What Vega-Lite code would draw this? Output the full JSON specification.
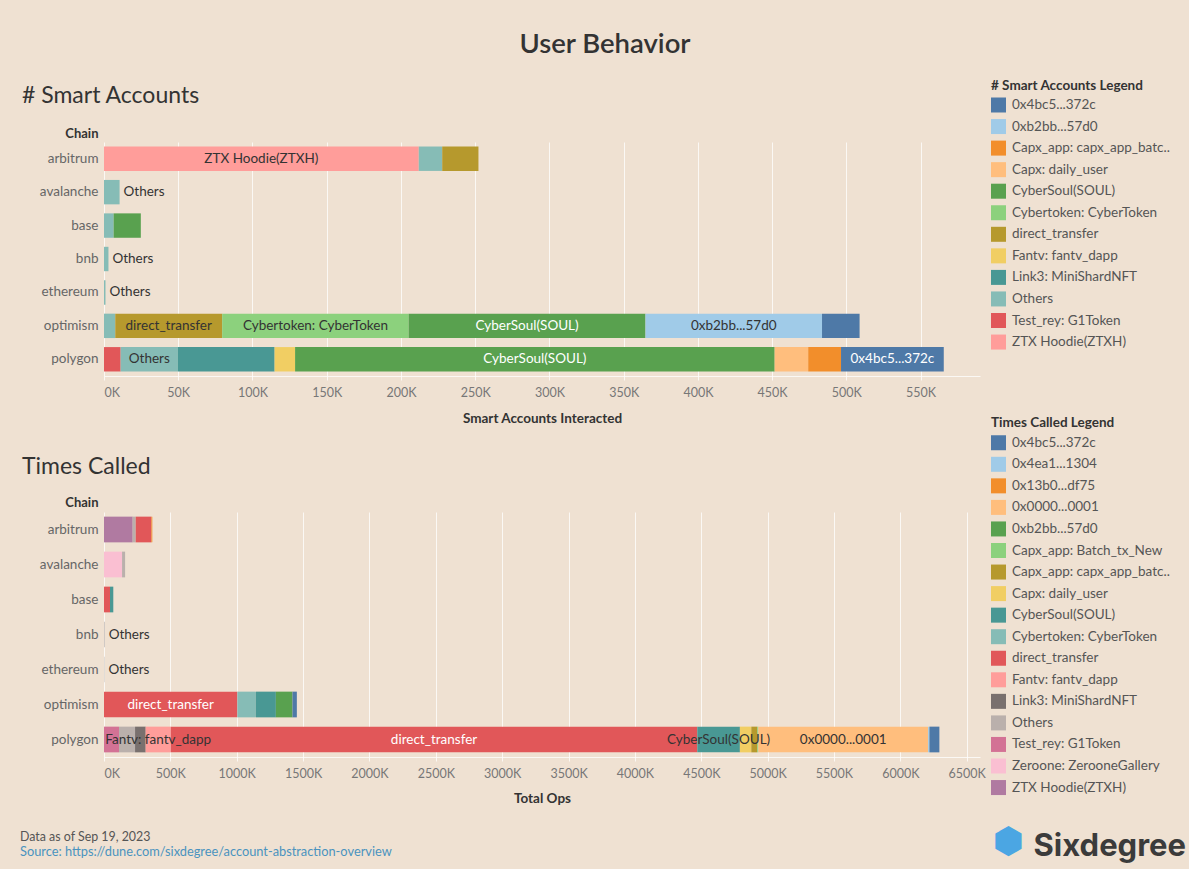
{
  "$schema": "https://vega.github.io/schema/vega-lite/v6.json",
  "background": "#efe1d2",
  "padding": {"left": 20, "top": 31, "right": 5, "bottom": 9},
  "config": {
    "font": "Lato",
    "view": {"stroke": null},
    "axis": {"labelFont": "Lato", "titleFont": "Lato"},
    "legend": {"labelFont": "Lato", "titleFont": "Lato"}
  },
  "datasets": {
    "accounts": [
      {"chain": "arbitrum", "cat": "ZTX Hoodie(ZTXH)", "rank": 11, "value": 212000, "label": "ZTX Hoodie(ZTXH)"},
      {"chain": "arbitrum", "cat": "Others", "rank": 9, "value": 15800, "label": ""},
      {"chain": "arbitrum", "cat": "direct_transfer", "rank": 6, "value": 24400, "label": ""},
      {"chain": "avalanche", "cat": "Others", "rank": 9, "value": 10500, "label": "Others"},
      {"chain": "base", "cat": "Others", "rank": 9, "value": 6500, "label": ""},
      {"chain": "base", "cat": "CyberSoul(SOUL)", "rank": 4, "value": 18300, "label": ""},
      {"chain": "bnb", "cat": "Others", "rank": 9, "value": 3000, "label": "Others"},
      {"chain": "ethereum", "cat": "Others", "rank": 9, "value": 1000, "label": "Others"},
      {"chain": "optimism", "cat": "Others", "rank": 9, "value": 7600, "label": ""},
      {"chain": "optimism", "cat": "direct_transfer", "rank": 6, "value": 72000, "label": "direct_transfer"},
      {"chain": "optimism", "cat": "Cybertoken: CyberToken", "rank": 5, "value": 125600, "label": "Cybertoken: CyberToken"},
      {"chain": "optimism", "cat": "CyberSoul(SOUL)", "rank": 4, "value": 159500, "label": "CyberSoul(SOUL)"},
      {"chain": "optimism", "cat": "0xb2bb...57d0", "rank": 1, "value": 118900, "label": "0xb2bb...57d0"},
      {"chain": "optimism", "cat": "0x4bc5...372c", "rank": 0, "value": 25300, "label": ""},
      {"chain": "polygon", "cat": "Test_rey: G1Token", "rank": 10, "value": 11200, "label": ""},
      {"chain": "polygon", "cat": "Others", "rank": 9, "value": 38600, "label": "Others"},
      {"chain": "polygon", "cat": "Link3: MiniShardNFT", "rank": 8, "value": 65100, "label": ""},
      {"chain": "polygon", "cat": "Fantv: fantv_dapp", "rank": 7, "value": 13800, "label": ""},
      {"chain": "polygon", "cat": "CyberSoul(SOUL)", "rank": 4, "value": 323000, "label": "CyberSoul(SOUL)"},
      {"chain": "polygon", "cat": "Capx: daily_user", "rank": 3, "value": 22600, "label": ""},
      {"chain": "polygon", "cat": "Capx_app: capx_app_batc..", "rank": 2, "value": 22100, "label": ""},
      {"chain": "polygon", "cat": "0x4bc5...372c", "rank": 0, "value": 69200, "label": "0x4bc5...372c"}
    ],
    "calls": [
      {"chain": "arbitrum", "cat": "ZTX Hoodie(ZTXH)", "rank": 16, "value": 216000, "label": ""},
      {"chain": "arbitrum", "cat": "Others", "rank": 13, "value": 23000, "label": ""},
      {"chain": "arbitrum", "cat": "direct_transfer", "rank": 10, "value": 118000, "label": ""},
      {"chain": "arbitrum", "cat": "0x13b0...df75", "rank": 2, "value": 7000, "label": ""},
      {"chain": "avalanche", "cat": "Zeroone: ZerooneGallery", "rank": 15, "value": 136000, "label": ""},
      {"chain": "avalanche", "cat": "Others", "rank": 13, "value": 23000, "label": ""},
      {"chain": "base", "cat": "direct_transfer", "rank": 10, "value": 45000, "label": ""},
      {"chain": "base", "cat": "CyberSoul(SOUL)", "rank": 8, "value": 25000, "label": ""},
      {"chain": "bnb", "cat": "Others", "rank": 13, "value": 5000, "label": "Others"},
      {"chain": "ethereum", "cat": "Others", "rank": 13, "value": 3000, "label": "Others"},
      {"chain": "optimism", "cat": "direct_transfer", "rank": 10, "value": 1005000, "label": "direct_transfer"},
      {"chain": "optimism", "cat": "Cybertoken: CyberToken", "rank": 9, "value": 139000, "label": ""},
      {"chain": "optimism", "cat": "CyberSoul(SOUL)", "rank": 8, "value": 151000, "label": ""},
      {"chain": "optimism", "cat": "0xb2bb...57d0", "rank": 4, "value": 125000, "label": ""},
      {"chain": "optimism", "cat": "0x4bc5...372c", "rank": 0, "value": 33000, "label": ""},
      {"chain": "polygon", "cat": "Test_rey: G1Token", "rank": 14, "value": 113000, "label": ""},
      {"chain": "polygon", "cat": "Others", "rank": 13, "value": 121000, "label": ""},
      {"chain": "polygon", "cat": "Link3: MiniShardNFT", "rank": 12, "value": 80000, "label": ""},
      {"chain": "polygon", "cat": "Fantv: fantv_dapp", "rank": 11, "value": 189000, "label": "Fantv: fantv_dapp"},
      {"chain": "polygon", "cat": "direct_transfer", "rank": 10, "value": 3967000, "label": "direct_transfer"},
      {"chain": "polygon", "cat": "CyberSoul(SOUL)", "rank": 8, "value": 321000, "label": "CyberSoul(SOUL)"},
      {"chain": "polygon", "cat": "Capx: daily_user", "rank": 7, "value": 86000, "label": ""},
      {"chain": "polygon", "cat": "Capx_app: capx_app_batc..", "rank": 6, "value": 45000, "label": ""},
      {"chain": "polygon", "cat": "Capx_app: Batch_tx_New", "rank": 5, "value": 8000, "label": ""},
      {"chain": "polygon", "cat": "0x0000...0001", "rank": 3, "value": 1279000, "label": "0x0000...0001"},
      {"chain": "polygon", "cat": "0x4ea1...1304", "rank": 1, "value": 10000, "label": ""},
      {"chain": "polygon", "cat": "0x4bc5...372c", "rank": 0, "value": 75000, "label": ""}
    ]
  },
  "title": {"text": "⬢", "orient": "bottom", "anchor": "end", "font": "DejaVu Sans", "fontSize": 36, "fontWeight": "normal", "color": "#4ba6e3", "offset": 0, "dy": -37, "dx": -162, "frame": "bounds"},
  "vconcat": [
    {
      "title": {"text": "Sixdegree", "orient": "bottom", "anchor": "end", "font": "Inter", "fontSize": 31, "fontWeight": "bold", "color": "#3b3b3b", "offset": 0, "dy": -27, "dx": 16, "frame": "bounds"},
      "vconcat": [
        {
          "title": {"text": "Data as of  Sep 19, 2023", "subtitle": "Source: https://dune.com/sixdegree/account-abstraction-overview", "orient": "bottom", "anchor": "start", "frame": "bounds", "fontSize": 12.4, "fontWeight": "normal", "color": "#555555", "subtitleFontSize": 12.8, "subtitleColor": "#4a93bf", "subtitlePadding": 3, "offset": 26, "dx": -2},
          "vconcat": [
            {
              "title": {"text": "User Behavior", "anchor": "middle", "frame": "bounds", "fontSize": 27.5, "fontWeight": 600, "color": "#333333", "offset": 20, "dx": 9},
              "bounds": "flush",
              "spacing": 136,
              "resolve": {"scale": {"color": "independent", "x": "independent", "y": "independent"}, "legend": {"color": "independent"}},
              "vconcat": [
                {
                  "title": {"text": "# Smart Accounts", "anchor": "start", "frame": "group", "fontSize": 23, "fontWeight": "normal", "color": "#333333", "offset": 16, "dx": -82, "dy": 45},
                  "width": 876,
                  "height": 234,
                  "data": {"name": "accounts"},
                  "encoding": {
                    "y": {"field": "chain", "type": "nominal", "scale": {"paddingInner": 0.27, "paddingOuter": 0.135},
                      "axis": {"title": "Chain", "titleAngle": 0, "titleAlign": "right", "titleBaseline": "middle", "titleX": -6, "titleY": -9, "titleFontSize": 13, "titleFontWeight": "bold", "titleColor": "#333333", "labelFontSize": 13.5, "labelColor": "#666666", "ticks": false, "domain": false, "labelPadding": 6}}
                  },
                  "layer": [
                    {
                      "mark": {"type": "bar"},
                      "encoding": {
                        "x": {"field": "value", "type": "quantitative", "stack": "zero", "scale": {"domain": [0, 590000], "nice": false},
                          "axis": {"title": "Smart Accounts Interacted", "values": [0, 50000, 100000, 150000, 200000, 250000, 300000, 350000, 400000, 450000, 500000, 550000], "labelExpr": "datum.value / 1000 + 'K'", "grid": true, "gridColor": "#ffffff", "gridOpacity": 0.75, "domain": true, "domainColor": "#ffffff", "domainOpacity": 0.75, "ticks": true, "tickColor": "#ffffff", "tickOpacity": 0.75, "tickSize": 4, "labelFlush": true, "labelColor": "#777777", "labelFontSize": 12.5, "labelPadding": 6.5, "titleFontSize": 13.5, "titleFontWeight": "bold", "titleColor": "#333333", "titlePadding": 12.5}},
                        "color": {"field": "cat", "type": "nominal",
                          "scale": {
                            "domain": ["0x4bc5...372c", "0xb2bb...57d0", "Capx_app: capx_app_batc..", "Capx: daily_user", "CyberSoul(SOUL)", "Cybertoken: CyberToken", "direct_transfer", "Fantv: fantv_dapp", "Link3: MiniShardNFT", "Others", "Test_rey: G1Token", "ZTX Hoodie(ZTXH)"],
                            "range": ["#4e79a7", "#a0cbe8", "#f28e2b", "#ffbe7d", "#59a14f", "#8cd17d", "#b6992d", "#f1ce63", "#499894", "#86bcb6", "#e15759", "#ff9d9a"]
                          },
                          "legend": {"orient": "none", "legendX": 887, "legendY": -63.5, "title": "# Smart Accounts Legend", "symbolType": "square", "symbolSize": 225, "symbolStrokeWidth": 0, "symbolOpacity": 1, "labelFontSize": 13.5, "labelColor": "#555555", "titleFontSize": 13.5, "titleColor": "#333333", "titleFontWeight": "bold", "rowPadding": 6.55, "titlePadding": 5.5, "labelOffset": 6, "labelLimit": 200, "padding": 0}},
                        "order": {"field": "rank", "type": "quantitative", "sort": "descending"}
                      }
                    },
                    {
                      "transform": [
                        {"stack": "value", "groupby": ["chain"], "sort": [{"field": "rank", "order": "descending"}], "as": ["x0", "x1"]},
                        {"filter": {"field": "chain", "oneOf": ["avalanche", "bnb", "ethereum"]}}
                      ],
                      "mark": {"type": "text", "align": "left", "dx": 4, "fontSize": 13.5, "color": "#333333"},
                      "encoding": {
                        "x": {"field": "x1", "type": "quantitative"},
                        "text": {"field": "label"}
                      }
                    },
                    {
                      "transform": [
                        {"stack": "value", "groupby": ["chain"], "sort": [{"field": "rank", "order": "descending"}], "as": ["x0", "x1"]},
                        {"filter": "datum.label !== '' && datum.chain !== 'avalanche' && datum.chain !== 'bnb' && datum.chain !== 'ethereum'"},
                        {"fold": ["x0", "x1"], "as": ["k", "v"]},
                        {"aggregate": [{"op": "mean", "field": "v", "as": "mid"}], "groupby": ["chain", "cat", "label"]}
                      ],
                      "mark": {"type": "text", "align": "center", "fontSize": 13.5},
                      "encoding": {
                        "x": {"field": "mid", "type": "quantitative"},
                        "text": {"field": "label"},
                        "color": {"condition": {"test": "datum.cat === 'CyberSoul(SOUL)' || datum.cat === '0x4bc5...372c'", "value": "#ffffff"}, "value": "#333333"}
                      }
                    }
                  ]
                },
                {
                  "title": {"text": "Times Called", "anchor": "start", "frame": "group", "fontSize": 23, "fontWeight": "normal", "color": "#333333", "offset": 16, "dx": -82, "dy": 79},
                  "width": 876,
                  "height": 245,
                  "data": {"name": "calls"},
                  "encoding": {
                    "y": {"field": "chain", "type": "nominal", "scale": {"paddingInner": 0.265, "paddingOuter": 0.1325},
                      "axis": {"title": "Chain", "titleAngle": 0, "titleAlign": "right", "titleBaseline": "middle", "titleX": -6, "titleY": -9.5, "titleFontSize": 13, "titleFontWeight": "bold", "titleColor": "#333333", "labelFontSize": 13.5, "labelColor": "#666666", "ticks": false, "domain": false, "labelPadding": 6}}
                  },
                  "layer": [
                    {
                      "mark": {"type": "bar"},
                      "encoding": {
                        "x": {"field": "value", "type": "quantitative", "stack": "zero", "scale": {"domain": [0, 6600000], "nice": false},
                          "axis": {"title": "Total Ops", "values": [0, 500000, 1000000, 1500000, 2000000, 2500000, 3000000, 3500000, 4000000, 4500000, 5000000, 5500000, 6000000, 6500000], "labelExpr": "datum.value / 1000 + 'K'", "grid": true, "gridColor": "#ffffff", "gridOpacity": 0.75, "domain": true, "domainColor": "#ffffff", "domainOpacity": 0.75, "ticks": true, "tickColor": "#ffffff", "tickOpacity": 0.75, "tickSize": 4, "labelFlush": true, "labelColor": "#777777", "labelFontSize": 12.5, "labelPadding": 6.5, "titleFontSize": 13.5, "titleFontWeight": "bold", "titleColor": "#333333", "titlePadding": 11}},
                        "color": {"field": "cat", "type": "nominal",
                          "scale": {
                            "domain": ["0x4bc5...372c", "0x4ea1...1304", "0x13b0...df75", "0x0000...0001", "0xb2bb...57d0", "Capx_app: Batch_tx_New", "Capx_app: capx_app_batc..", "Capx: daily_user", "CyberSoul(SOUL)", "Cybertoken: CyberToken", "direct_transfer", "Fantv: fantv_dapp", "Link3: MiniShardNFT", "Others", "Test_rey: G1Token", "Zeroone: ZerooneGallery", "ZTX Hoodie(ZTXH)"],
                            "range": ["#4e79a7", "#a0cbe8", "#f28e2b", "#ffbe7d", "#59a14f", "#8cd17d", "#b6992d", "#f1ce63", "#499894", "#86bcb6", "#e15759", "#ff9d9a", "#79706e", "#bab0ac", "#d37295", "#fabfd2", "#b07aa1"]
                          },
                          "legend": {"orient": "none", "legendX": 887, "legendY": -95.75, "title": "Times Called Legend", "symbolType": "square", "symbolSize": 225, "symbolStrokeWidth": 0, "symbolOpacity": 1, "labelFontSize": 13.5, "labelColor": "#555555", "titleFontSize": 13.5, "titleColor": "#333333", "titleFontWeight": "bold", "rowPadding": 6.55, "titlePadding": 5.5, "labelOffset": 6, "labelLimit": 200, "padding": 0}},
                        "order": {"field": "rank", "type": "quantitative", "sort": "descending"}
                      }
                    },
                    {
                      "transform": [
                        {"stack": "value", "groupby": ["chain"], "sort": [{"field": "rank", "order": "descending"}], "as": ["x0", "x1"]},
                        {"filter": {"field": "chain", "oneOf": ["bnb", "ethereum"]}}
                      ],
                      "mark": {"type": "text", "align": "left", "dx": 4, "fontSize": 13.5, "color": "#333333"},
                      "encoding": {
                        "x": {"field": "x1", "type": "quantitative"},
                        "text": {"field": "label"}
                      }
                    },
                    {
                      "transform": [
                        {"stack": "value", "groupby": ["chain"], "sort": [{"field": "rank", "order": "descending"}], "as": ["x0", "x1"]},
                        {"filter": "datum.label !== '' && datum.chain !== 'bnb' && datum.chain !== 'ethereum'"},
                        {"fold": ["x0", "x1"], "as": ["k", "v"]},
                        {"aggregate": [{"op": "mean", "field": "v", "as": "mid"}], "groupby": ["chain", "cat", "label"]}
                      ],
                      "mark": {"type": "text", "align": "center", "fontSize": 13.5},
                      "encoding": {
                        "x": {"field": "mid", "type": "quantitative"},
                        "text": {"field": "label"},
                        "color": {"condition": {"test": "datum.cat === 'direct_transfer'", "value": "#ffffff"}, "value": "#333333"}
                      }
                    }
                  ]
                }
              ]
            }
          ]
        }
      ]
    }
  ]
}
